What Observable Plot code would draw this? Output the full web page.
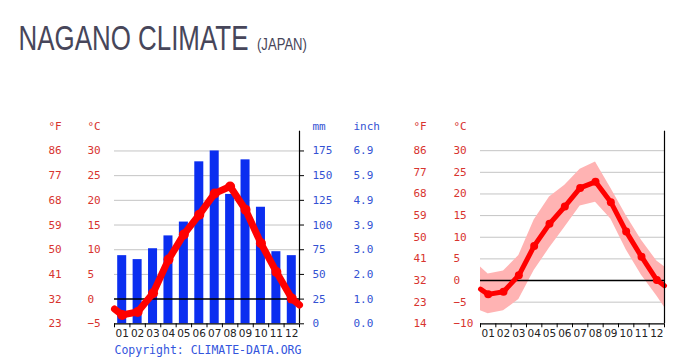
<!DOCTYPE html>
<html>
<head>
<meta charset="utf-8">
<script src="https://cdn.jsdelivr.net/npm/d3@7"></script>
<script src="https://cdn.jsdelivr.net/npm/@observablehq/plot@0.6"></script>
<style>
  html, body { margin: 0; padding: 0; background: #fff; }
  #wrap { position: relative; width: 681px; height: 363px; overflow: hidden; }
  #wrap > svg { position: absolute; }
</style>
</head>
<body>
<div id="wrap"></div>
<script>
// ---- data ----
const months = ["01","02","03","04","05","06","07","08","09","10","11","12"];
const precipMm = [69, 65, 76, 89, 103, 164, 175, 131, 166, 118, 73, 69];
const tempMean = [-3.2, -2.6, 1.2, 8.0, 13.1, 17.1, 21.4, 22.8, 18.1, 11.3, 5.5, 0.1];
const tempMeanEdges = [-2.0, -1.2];   // values at left / right chart edge
const tempHigh = [1.5, 2.2, 5.8, 14.0, 19.3, 22.0, 25.7, 27.4, 21.3, 15.0, 9.3, 4.5];
const tempHighEdges = [3.1, 3.2];
const tempLow = [-7.7, -7.0, -4.4, 2.3, 7.5, 12.3, 17.2, 18.1, 14.2, 7.1, 1.2, -3.6];
const tempLowEdges = [-7.0, -6.2];
const cTicksLeft = [-5, 0, 5, 10, 15, 20, 25, 30];
const fLabelsLeft = ["23", "32", "41", "50", "59", "68", "77", "86"];
const mmTicks = [0, 25, 50, 75, 100, 125, 150, 175];
const inchLabels = ["0.0", "1.0", "2.0", "3.0", "3.9", "4.9", "5.9", "6.9"];
const cTicksRight = [-10, -5, 0, 5, 10, 15, 20, 25, 30];
const fLabelsRight = ["14", "23", "32", "41", "50", "59", "68", "77", "86"];
const titleText = "NAGANO CLIMATE";
const subtitleText = "(JAPAN)";
const copyrightText = "Copyright: CLIMATE-DATA.ORG";

// ---- derived tables ----
const monthPos = months.map((m, i) => i + 1);
const boundaries = [0.5, ...monthPos.map(p => p + 0.5)];
const monthly = months.map((m, i) => ({x: i + 1, mean: tempMean[i], high: tempHigh[i], low: tempLow[i]}));
const series = [
  {x: 0.5, mean: tempMeanEdges[0], high: tempHighEdges[0], low: tempLowEdges[0]},
  ...monthly,
  {x: 12.5, mean: tempMeanEdges[1], high: tempHighEdges[1], low: tempLowEdges[1]}
];
const fmt = v => (v < 0 ? "\u2212" + Math.abs(v) : String(v));

const RED_TXT = "#d8342f";
const BLUE_TXT = "#3352d3";
const MONO = "DejaVu Sans Mono";
const common = {
  height: 263,
  marginTop: 30.7,
  marginBottom: 39.7,
  style: {background: "transparent", fontFamily: MONO, fontSize: "11px", overflow: "visible"}
};
const wrap = document.getElementById("wrap");

// ---- title (scaled horizontally to the reference's condensed look) ----
const ns = "http://www.w3.org/2000/svg";
const tsvg = document.createElementNS(ns, "svg");
tsvg.setAttribute("width", 681); tsvg.setAttribute("height", 70);
tsvg.style.left = "0px"; tsvg.style.top = "0px";
wrap.append(tsvg);
function condensedText(str, x, y, size, targetWidth) {
  const g = document.createElementNS(ns, "g");
  const t = document.createElementNS(ns, "text");
  t.setAttribute("font-family", "Liberation Sans, Arial, sans-serif");
  t.setAttribute("font-size", size);
  t.setAttribute("fill", "#47465a");
  t.textContent = str;
  g.append(t);
  tsvg.append(g);
  const w = t.getComputedTextLength() || targetWidth;
  g.setAttribute("transform", `translate(${x},${y}) scale(${targetWidth / w},1)`);
}
condensedText(titleText, 18.5, 50, 36, 230);
condensedText(subtitleText, 257, 50, 17, 50);

// ---- left chart: precipitation layer ----
const leftDims = {width: 400, marginLeft: 114, marginRight: 101};
const bars = Plot.plot({
  ...common, ...leftDims,
  x: {domain: [0.5, 12.5], axis: null},
  y: {domain: [0, 195], axis: null},
  marks: [
    Plot.ruleY(mmTicks.filter(d => d >= 50), {stroke: "#c4c4c4", strokeWidth: 1}),
    Plot.rectY(precipMm, {x1: (d, i) => i + 0.5, x2: (d, i) => i + 1.5, y1: 0, y2: d => d,
      insetLeft: 3.2, insetRight: 3.2, fill: "#0b2ef0"}),
    Plot.ruleX([12.5], {stroke: "black", strokeWidth: 1.2}),
    Plot.ruleY([0], {stroke: "black", strokeWidth: 1.2}),
    Plot.axisY({anchor: "right", ticks: mmTicks, tickSize: 4, tickPadding: 9,
      tickFormat: d => String(d), fill: BLUE_TXT, stroke: "black", label: null, fontSize: 11}),
    Plot.text(inchLabels, {y: (d, i) => mmTicks[i], text: d => d, frameAnchor: "right", dx: 54,
      textAnchor: "start", lineAnchor: "middle", fill: BLUE_TXT, fontSize: 11}),
    Plot.text(["mm"], {frameAnchor: "top-right", dx: 13, dy: -5, textAnchor: "start", lineAnchor: "middle",
      fill: BLUE_TXT, fontSize: 11}),
    Plot.text(["inch"], {frameAnchor: "top-right", dx: 54, dy: -5, textAnchor: "start", lineAnchor: "middle",
      fill: BLUE_TXT, fontSize: 11}),
    Plot.axisX({ticks: boundaries, tickSize: 4, tickFormat: () => "", label: null, stroke: "black"}),
    Plot.text(months, {x: (d, i) => monthPos[i], text: d => d, frameAnchor: "bottom", dy: 10,
      lineAnchor: "middle", fill: "#222", fontSize: 10.5, fontFamily: "DejaVu Sans"}),
    Plot.text([copyrightText], {frameAnchor: "bottom-left", dy: 27, textAnchor: "start", lineAnchor: "middle",
      fill: "#3355dd", fontSize: 11.5})
  ]
});
bars.style.left = "0px"; bars.style.top = "100px";
wrap.append(bars);

// ---- left chart: temperature layer ----
const temp = Plot.plot({
  ...common, ...leftDims,
  x: {domain: [0.5, 12.5], axis: null},
  y: {domain: [-5, 34], axis: null},
  marks: [
    Plot.ruleY([0], {stroke: "black", strokeWidth: 1.5}),
    Plot.line(series, {x: "x", y: "mean", stroke: "#ff0000", strokeWidth: 7}),
    Plot.dot(monthly, {x: "x", y: "mean", r: 5, fill: "#ff0000"}),
    Plot.text(cTicksLeft, {y: d => d, text: fmt, frameAnchor: "left", dx: -27, textAnchor: "start",
      lineAnchor: "middle", fill: RED_TXT, fontSize: 11}),
    Plot.text(fLabelsLeft, {y: (d, i) => cTicksLeft[i], text: d => d, frameAnchor: "left", dx: -66,
      textAnchor: "start", lineAnchor: "middle", fill: RED_TXT, fontSize: 11}),
    Plot.text(["°F"], {frameAnchor: "top-left", dx: -66, dy: -5, textAnchor: "start", lineAnchor: "middle",
      fill: RED_TXT, fontSize: 11}),
    Plot.text(["°C"], {frameAnchor: "top-left", dx: -27, dy: -5, textAnchor: "start", lineAnchor: "middle",
      fill: RED_TXT, fontSize: 11})
  ]
});
temp.style.left = "0px"; temp.style.top = "100px";
wrap.append(temp);

// ---- right chart: temperature range ----
const right = Plot.plot({
  ...common,
  width: 281, marginLeft: 80, marginRight: 17,
  x: {domain: [0.5, 12.5], axis: null},
  y: {domain: [-10, 34.5], axis: null},
  marks: [
    Plot.ruleY(cTicksRight.filter(d => d > -10 && d !== 0), {stroke: "#c4c4c4", strokeWidth: 1}),
    Plot.areaY(series, {x: "x", y1: "low", y2: "high", fill: "#ffb3b3"}),
    Plot.ruleY([0], {stroke: "black", strokeWidth: 1.5}),
    Plot.line(series, {x: "x", y: "mean", stroke: "#ff0000", strokeWidth: 5}),
    Plot.dot(monthly, {x: "x", y: "mean", r: 4, fill: "#ff0000"}),
    Plot.ruleX([12.5], {stroke: "black", strokeWidth: 1.2}),
    Plot.ruleY([-10], {stroke: "black", strokeWidth: 1.2}),
    Plot.axisX({ticks: boundaries, tickSize: 4, tickFormat: () => "", label: null, stroke: "black"}),
    Plot.text(months, {x: (d, i) => monthPos[i], text: d => d, frameAnchor: "bottom", dy: 10,
      lineAnchor: "middle", fill: "#222", fontSize: 10.5, fontFamily: "DejaVu Sans"}),
    Plot.text(cTicksRight, {y: d => d, text: fmt, frameAnchor: "left", dx: -27, textAnchor: "start",
      lineAnchor: "middle", fill: RED_TXT, fontSize: 11}),
    Plot.text(fLabelsRight, {y: (d, i) => cTicksRight[i], text: d => d, frameAnchor: "left", dx: -67,
      textAnchor: "start", lineAnchor: "middle", fill: RED_TXT, fontSize: 11}),
    Plot.text(["°F"], {frameAnchor: "top-left", dx: -67, dy: -5, textAnchor: "start", lineAnchor: "middle",
      fill: RED_TXT, fontSize: 11}),
    Plot.text(["°C"], {frameAnchor: "top-left", dx: -27, dy: -5, textAnchor: "start", lineAnchor: "middle",
      fill: RED_TXT, fontSize: 11})
  ]
});
right.style.left = "400px"; right.style.top = "100px";
wrap.append(right);
</script>
</body>
</html>
